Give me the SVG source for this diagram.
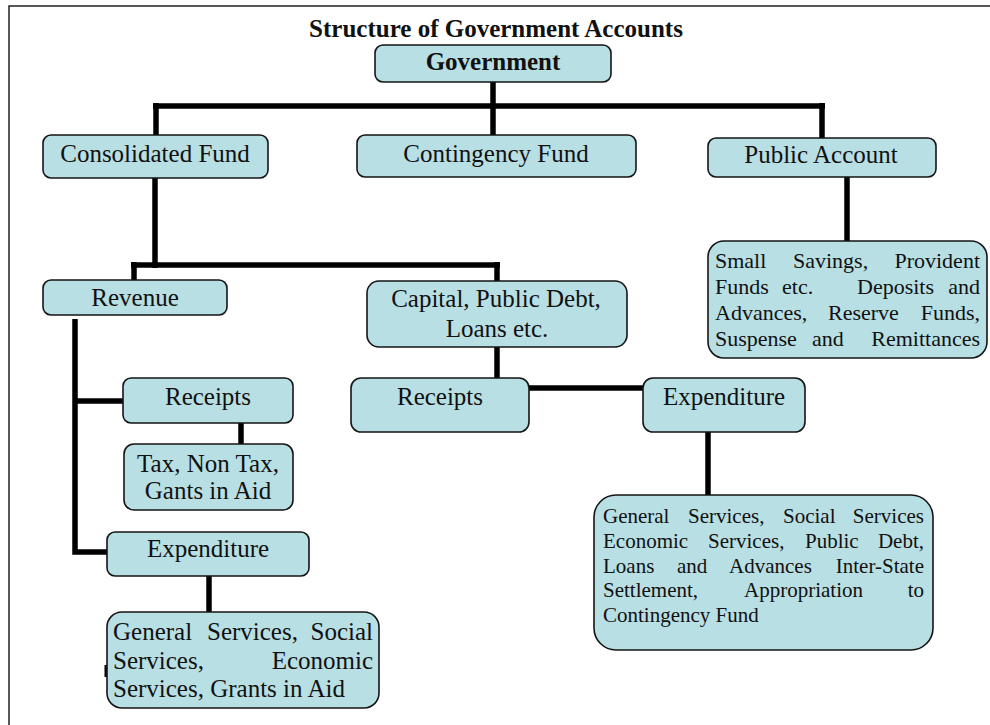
<svg xmlns="http://www.w3.org/2000/svg" width="990" height="725" viewBox="0 0 990 725">
<style>
.box{fill:#b8dfe3;stroke:#151515;stroke-width:1.6}
.t{font-family:"Liberation Serif","Times New Roman",serif;font-size:25px;fill:#111}
.c{text-anchor:middle}
.b{font-weight:bold}
.s22{font-size:22px}
.s21{font-size:21px}
.e{text-anchor:end}
.conn path{fill:none;stroke:#000;stroke-width:5.5;stroke-linejoin:miter;stroke-linecap:butt}
.frame{fill:none;stroke:#222;stroke-width:1.5}
</style>
<rect width="990" height="725" fill="#fff"/>
<path class="frame" d="M9 725 V6 H990"/>
<text class="t b c" x="496" y="37">Structure of Government Accounts</text>

<g id="connectors" class="conn">
<path d="M493 82 V135"/>
<path d="M153 106 H825"/>
<path d="M156 103 V135"/>
<path d="M822 103 V138"/>
<path d="M847 177 V241"/>
<path d="M155 178 V268"/>
<path d="M131 265 H500"/>
<path d="M134 262 V280"/>
<path d="M497 262 V281"/>
<path d="M497 347 V378"/>
<path d="M529 388 H643"/>
<path d="M708 432 V495"/>
<path d="M75 319 V552 H107"/>
<path d="M75 401 H123"/>
<path d="M241 423 V444"/>
<path d="M209 576 V612"/>
<path d="M106 665 V677" style="stroke-width:3"/>
</g>

<g id="government">
<rect class="box" x="375" y="45" width="236" height="37" rx="8"/>
<text class="t b c" x="493" y="70">Government</text>
</g>

<g id="consolidated-fund">
<rect class="box" x="43" y="135" width="225" height="43" rx="8"/>
<text class="t c" x="155" y="162">Consolidated Fund</text>
</g>

<g id="contingency-fund">
<rect class="box" x="357" y="135" width="279" height="42" rx="8"/>
<text class="t c" x="496" y="162">Contingency Fund</text>
</g>

<g id="public-account">
<rect class="box" x="708" y="138" width="228" height="39" rx="8"/>
<text class="t c" x="821" y="163">Public Account</text>
</g>

<g id="public-account-items">
<rect class="box" x="708" y="241" width="279" height="117" rx="16"/>
<text class="t s22" y="268"><tspan x="715">Small</tspan><tspan x="793">Savings,</tspan><tspan x="980" class="e" text-anchor="end">Provident</tspan></text>
<text class="t s22" y="294"><tspan x="715">Funds</tspan><tspan x="782">etc.</tspan><tspan x="857">Deposits</tspan><tspan x="980" text-anchor="end">and</tspan></text>
<text class="t s22" y="320"><tspan x="715">Advances,</tspan><tspan x="828">Reserve</tspan><tspan x="980" text-anchor="end">Funds,</tspan></text>
<text class="t s22" y="346"><tspan x="715">Suspense</tspan><tspan x="812">and</tspan><tspan x="980" text-anchor="end">Remittances</tspan></text>
</g>

<g id="revenue">
<rect class="box" x="43" y="280" width="184" height="35" rx="8"/>
<text class="t c" x="135" y="306">Revenue</text>
</g>

<g id="capital">
<rect class="box" x="367" y="281" width="260" height="66" rx="12"/>
<text class="t c" x="496" y="307">Capital, Public Debt,</text>
<text class="t c" x="497" y="337">Loans etc.</text>
</g>

<g id="revenue-receipts">
<rect class="box" x="123" y="378" width="170" height="45" rx="8"/>
<text class="t c" x="208" y="405">Receipts</text>
</g>

<g id="revenue-receipts-items">
<rect class="box" x="124" y="444" width="169" height="66" rx="10"/>
<text class="t c" x="208" y="472">Tax, Non Tax,</text>
<text class="t c" x="208" y="499">Gants in Aid</text>
</g>

<g id="revenue-expenditure">
<rect class="box" x="107" y="532" width="202" height="44" rx="8"/>
<text class="t c" x="208" y="557">Expenditure</text>
</g>

<g id="revenue-expenditure-items">
<rect class="box" x="107" y="612" width="272" height="96" rx="15"/>
<text class="t" y="640"><tspan x="113">General</tspan><tspan x="207">Services,</tspan><tspan x="373" text-anchor="end">Social</tspan></text>
<text class="t" y="669"><tspan x="113">Services,</tspan><tspan x="373" text-anchor="end">Economic</tspan></text>
<text class="t" x="113" y="697">Services, Grants in Aid</text>
</g>

<g id="capital-receipts">
<rect class="box" x="351" y="378" width="178" height="54" rx="10"/>
<text class="t c" x="440" y="405">Receipts</text>
</g>

<g id="capital-expenditure">
<rect class="box" x="643" y="378" width="162" height="54" rx="10"/>
<text class="t c" x="724" y="405">Expenditure</text>
</g>

<g id="capital-expenditure-items">
<rect class="box" x="594" y="495" width="339" height="155" rx="22"/>
<text class="t s21" y="523"><tspan x="603">General</tspan><tspan x="688">Services,</tspan><tspan x="783">Social</tspan><tspan x="924" text-anchor="end">Services</tspan></text>
<text class="t s21" y="548"><tspan x="603">Economic</tspan><tspan x="708">Services,</tspan><tspan x="805">Public</tspan><tspan x="924" text-anchor="end">Debt,</tspan></text>
<text class="t s21" y="573"><tspan x="603">Loans</tspan><tspan x="677">and</tspan><tspan x="729">Advances</tspan><tspan x="924" text-anchor="end">Inter-State</tspan></text>
<text class="t s21" y="597"><tspan x="603">Settlement,</tspan><tspan x="744">Appropriation</tspan><tspan x="924" text-anchor="end">to</tspan></text>
<text class="t s21" x="603" y="622">Contingency Fund</text>
</g>
</svg>
